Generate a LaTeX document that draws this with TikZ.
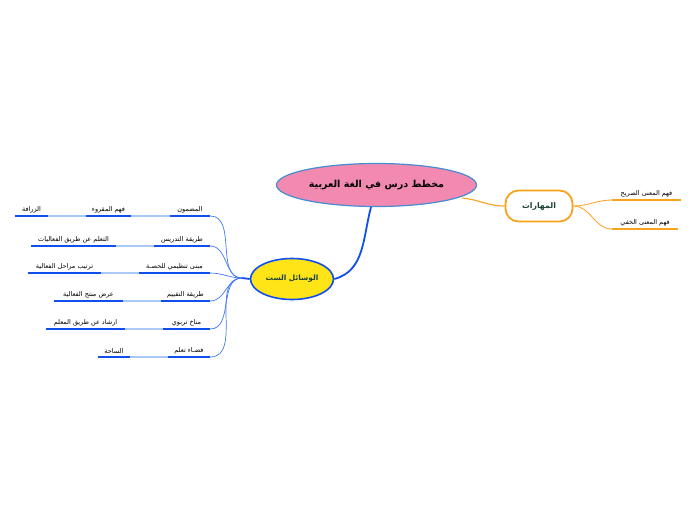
\documentclass[tikz,border=0pt]{standalone}
\usepackage{fontspec}
\newfontfamily\ar[Script=Arabic]{DejaVu Sans}
\TeXXeTstate=1
\usetikzlibrary{shapes.geometric}
\definecolor{pinkf}{RGB}{242,137,176}
\definecolor{pinkb}{RGB}{70,140,210}
\definecolor{yel}{RGB}{255,228,24}
\definecolor{blu}{RGB}{16,78,240}
\definecolor{blut}{RGB}{70,120,240}
\definecolor{blul}{RGB}{170,200,248}
\definecolor{ora}{RGB}{249,162,28}
\definecolor{dgreen}{RGB}{28,68,52}
\tikzset{
  lvtwo/.style={anchor=south, inner xsep=0pt, inner ysep=3pt, font=\ar\fontsize{6.5}{7}\selectfont, text=black},
  uline/.style={blu, line width=2.4pt},
  oline/.style={ora, line width=2.2pt},
  thinb/.style={blut, line width=0.7pt},
  lightb/.style={blul, line width=1.6pt},
  thino/.style={ora, line width=0.8pt},
}
\newcommand{\AR}[1]{\beginR #1\endR}
\begin{document}
\begin{tikzpicture}[x=1pt,y=-1pt]
\useasboundingbox[fill=white] (0,0) rectangle (696,520);

% skills
\node[draw=ora, line width=1.8pt, fill=white, rounded corners=13pt, minimum width=67pt, minimum height=31pt,
      font=\ar\bfseries\fontsize{7.8}{9}\selectfont, text=dgreen] (s) at (539,206) {\AR{المهارات}};
\coordinate (ce) at (462,198);
\draw[ora, line width=1.1pt] (ce) to[out=-5,in=180] (s.west);

% central
\node[ellipse, draw=pinkb, line width=1.2pt, fill=pinkf, inner sep=0pt, minimum width=200pt, minimum height=43pt,
      font=\ar\bfseries\fontsize{9.6}{11}\selectfont] (c) at (376.5,185) {\AR{مخطط درس في الغة العربية}};

\node[lvtwo, minimum width=69pt] (s1) at (646.5,200) {\AR{فهم المعنى الصريح}};
\node[lvtwo, minimum width=66pt] (s2) at (645,229) {\AR{فهم المعنى الخفي}};
\draw[oline] (s1.south west) -- (s1.south east);
\draw[oline] (s2.south west) -- (s2.south east);
\draw[thino] (s.east) to[out=0,in=180] (s1.south west);
\draw[thino] (s.east) to[out=0,in=180] (s2.south west);

% six means
\node[ellipse, draw=blu, line width=1.6pt, fill=yel, inner sep=0pt, minimum width=83pt, minimum height=41pt,
      font=\ar\bfseries\fontsize{7.4}{9}\selectfont, text=dgreen] (y) at (292,279) {\AR{الوسائل الست}};
\coordinate (cb) at (371,207);
\draw[blu, line width=1.8pt] (cb) to[out=-105,in=15] (y.east);
\coordinate (hub) at (242,278);
\draw[blu, line width=1.8pt] (y.west) -- (hub);

% level 2
\node[lvtwo, minimum width=40pt] (a1) at (190,216) {\AR{المضمون}};
\node[lvtwo, minimum width=56pt] (a2) at (182,246) {\AR{طريقة التدريس}};
\node[lvtwo, minimum width=71pt] (a3) at (174.5,273) {\AR{مبنى تنظيمي للحصـة}};
\node[lvtwo, minimum width=49pt] (a4) at (185.5,301) {\AR{طريقة التقييم}};
\node[lvtwo, minimum width=47pt] (a5) at (186.5,329) {\AR{مناخ تربوي}};
\node[lvtwo, minimum width=42pt] (a6) at (189,357) {\AR{فضـاء تعلم}};

% level 3
\node[lvtwo, minimum width=45pt] (b1) at (108.5,216) {\AR{فهم المقروء}};
\node[lvtwo, minimum width=33pt] (b0) at (31.5,216) {\AR{الزرافة}};
\node[lvtwo, minimum width=85pt] (b2) at (73.5,246) {\AR{التعلم عن طريق الفعاليات}};
\node[lvtwo, minimum width=73pt] (b3) at (64.5,273) {\AR{ترتيب مراحل الفعالية}};
\node[lvtwo, minimum width=69pt] (b4) at (88.5,301) {\AR{عرض منتج الفعالية}};
\node[lvtwo, minimum width=79pt] (b5) at (85.5,329) {\AR{ارشاد عن طريق المعلم}};
\node[lvtwo, minimum width=32pt] (b6) at (114,357) {\AR{الساحة}};

\foreach \n in {a1,a2,a3,a4,a5,a6}{
  \draw[thinb] (hub) to[out=180,in=0] (\n.south east);
}
\draw[lightb] (a1.south west) -- (b1.south east);
\draw[lightb] (b1.south west) -- (b0.south east);
\draw[lightb] (a2.south west) -- (b2.south east);
\draw[lightb] (a3.south west) -- (b3.south east);
\draw[lightb] (a4.south west) -- (b4.south east);
\draw[lightb] (a5.south west) -- (b5.south east);
\draw[lightb] (a6.south west) -- (b6.south east);
\foreach \n in {a1,a2,a3,a4,a5,a6,b0,b1,b2,b3,b4,b5,b6}{
  \draw[uline] (\n.south west) -- (\n.south east);
}
\end{tikzpicture}
\end{document}
